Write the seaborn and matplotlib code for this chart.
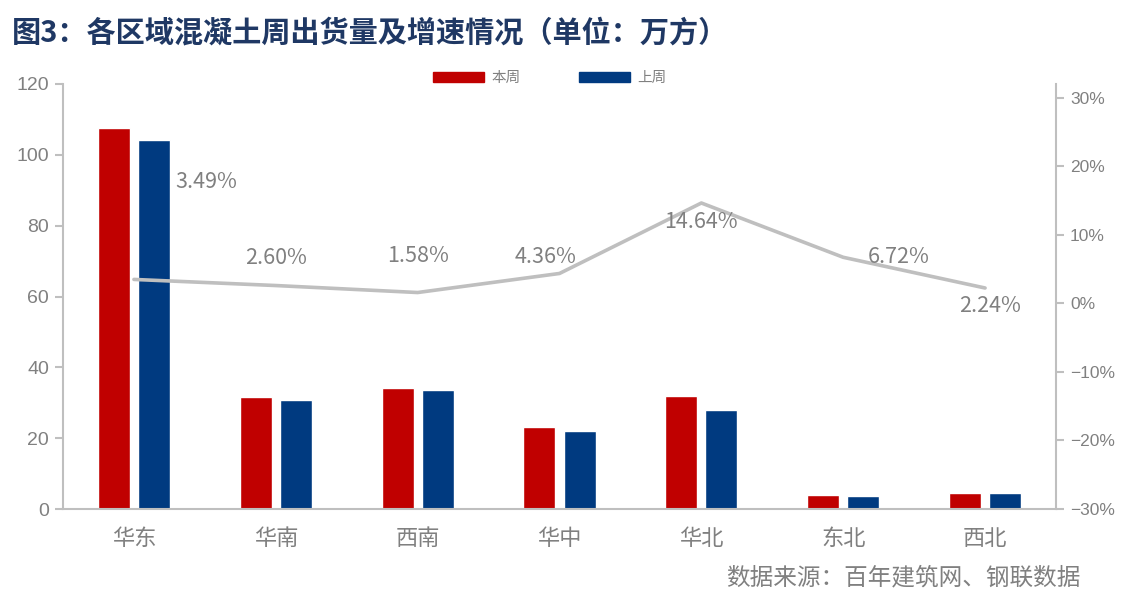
import pandas as pd
import matplotlib.pyplot as plt
import matplotlib.ticker as mticker
from matplotlib.patches import Patch
import seaborn as sns

# 数据
regions = ["华东", "华南", "西南", "华中", "华北", "东北", "西北"]
this_week = [107.7, 31.7, 34.2, 23.2, 32.0, 4.0, 4.5]
last_week = [104.1, 30.8, 33.6, 22.1, 28.0, 3.7, 4.5]
growth = [3.49, 2.60, 1.58, 4.36, 14.64, 6.72, 2.24]
series_names = ["本周", "上周"]

# label offsets (px) from each line point
label_offsets = [(72, 97), (0, 28), (0, 37), (-14, 16), (0, -19), (55, 0), (5, -18)]

red, blue, grey, txt = "#C00000", "#003A80", "#BFBFBF", "#808080"

sns.set_style("white")
plt.rcParams["font.family"] = ["Noto Sans CJK SC", "DejaVu Sans"]
plt.rcParams["axes.unicode_minus"] = True

df = pd.DataFrame({
    "region": regions * 2,
    "value": this_week + last_week,
    "series": [series_names[0]] * len(regions) + [series_names[1]] * len(regions),
})

fig = plt.figure(figsize=(11.31, 5.96), dpi=100)
ax = fig.add_axes([63 / 1131, 1 - 509 / 596, (1056 - 63) / 1131, (509 - 84) / 596])

sns.barplot(data=df, x="region", y="value", hue="series", palette=[red, blue],
            width=0.564, gap=0.2, saturation=1, legend=False, ax=ax)
ax.set_xlim(-0.5, len(regions) - 0.5)
ax.set_ylim(0, 120)
ax.set_yticks(range(0, 121, 20))
ax.set_xlabel("")
ax.set_ylabel("")
for s in ["top", "right"]:
    ax.spines[s].set_visible(False)
for s in ["left", "bottom"]:
    ax.spines[s].set_color(grey)
    ax.spines[s].set_linewidth(1.5)
ax.tick_params(axis="y", direction="out", length=6, width=1.5, color=grey,
               labelcolor=txt, labelsize=14, pad=4)
for lab in ax.get_yticklabels():
    lab.set_family("Liberation Sans")
ax.tick_params(axis="x", which="major", length=0, labelcolor=txt, labelsize=16, pad=13)
ax.set_xticks([i - 0.5 for i in range(len(regions) + 1)], minor=True)
ax.tick_params(axis="x", which="minor", direction="out", length=6, width=1.5, color=grey)

# 增速折线
ax2 = ax.twinx()
x_pos = list(range(len(regions)))
sns.lineplot(x=x_pos, y=growth, color=grey, linewidth=2.6, ax=ax2)
ax2.set_ylim(-30, 32)
ax2.set_yticks(range(-30, 31, 10))
ax2.yaxis.set_major_formatter(mticker.FuncFormatter(lambda v, p: f"{v:.0f}%".replace("-", "\u2212")))
for s in ["top", "left", "bottom"]:
    ax2.spines[s].set_visible(False)
ax2.spines["right"].set_color(grey)
ax2.spines["right"].set_linewidth(1.5)
ax2.tick_params(axis="y", direction="out", length=6, width=1.5, color=grey,
                labelcolor=txt, labelsize=12.5, pad=4)
for lab in ax2.get_yticklabels():
    lab.set_family("Liberation Sans")
ax2.set_xlim(-0.5, len(regions) - 0.5)

for x, g, (dx, dy) in zip(x_pos, growth, label_offsets):
    ax2.annotate(f"{g:.2f}%", (x, g), xytext=(dx * 0.72, dy * 0.72),
                 textcoords="offset points", ha="center", va="center",
                 color=txt, fontsize=15.5)

# 图例
handles = [Patch(color=red), Patch(color=blue)]
fig.legend(handles, series_names, loc="center", bbox_to_anchor=(0.486, 0.869),
           ncol=2, frameon=False, fontsize=10.5, labelcolor=txt,
           handlelength=3.5, handleheight=0.75, handletextpad=0.5, columnspacing=4.0)

fig.text(12 / 1131, 1 - 32 / 596, "图3：各区域混凝土周出货量及增速情况（单位：万方）",
         ha="left", va="center", fontsize=21, fontweight="bold", color="#1F3864")
fig.text(1080 / 1131, 1 - 578 / 596, "数据来源：百年建筑网、钢联数据",
         ha="right", va="center", fontsize=17, color=txt)

fig.savefig("out.png", dpi=100)
